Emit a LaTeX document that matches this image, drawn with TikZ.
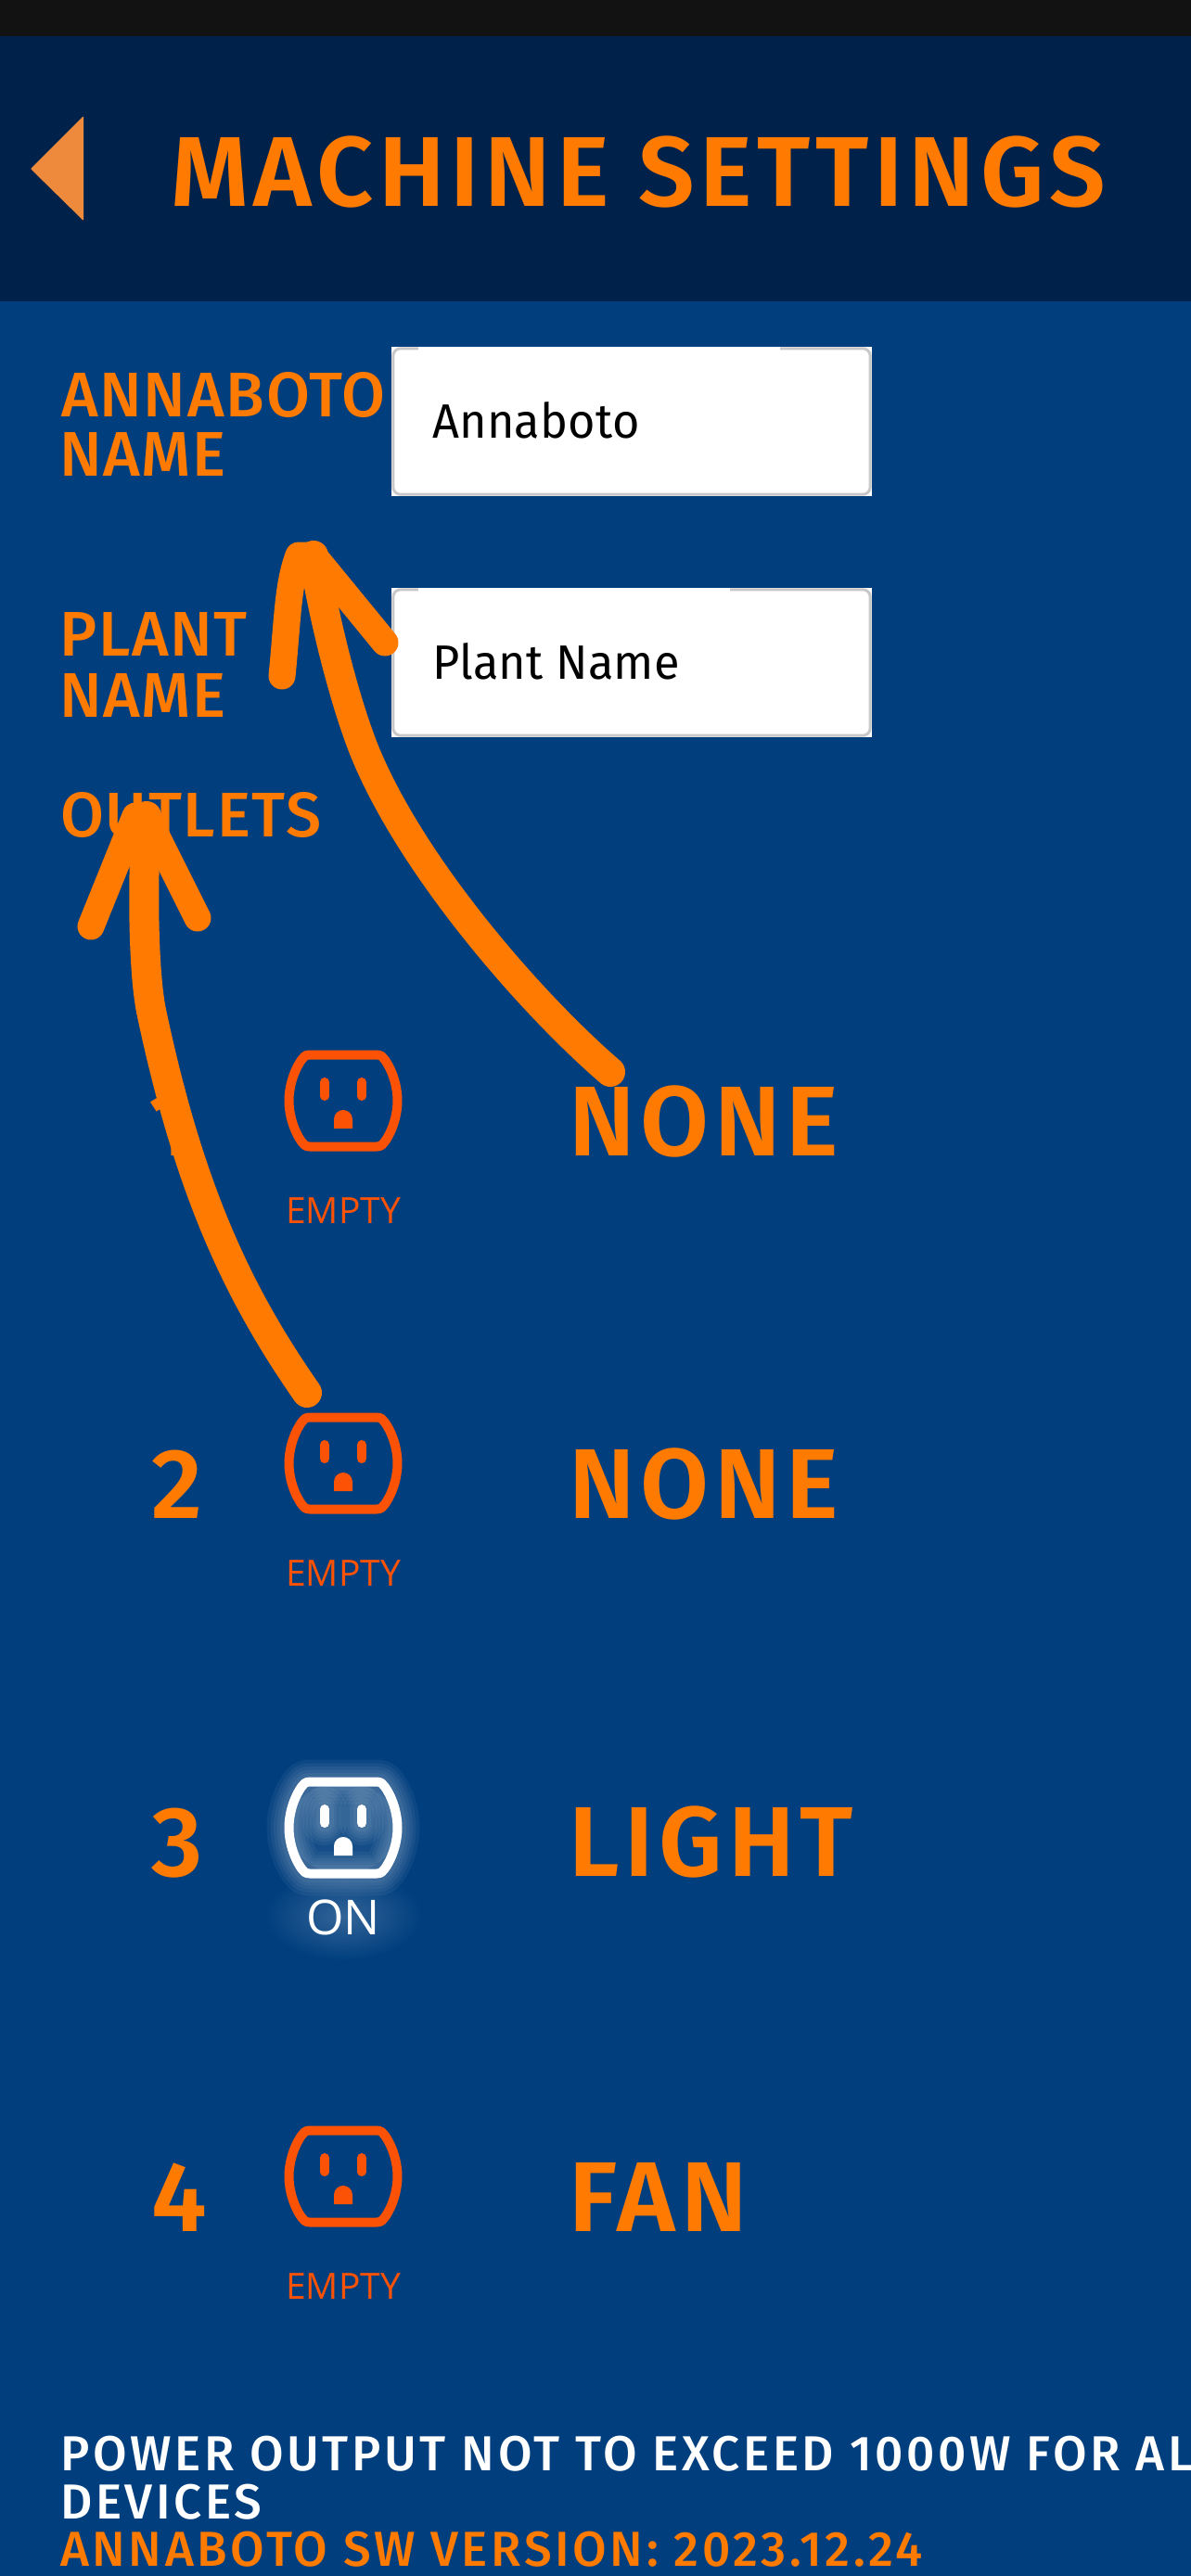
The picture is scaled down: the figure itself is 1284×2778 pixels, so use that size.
\documentclass[tikz,border=0pt]{standalone}
\usepackage{fontspec}
\usetikzlibrary{calc}
\setmainfont{Fira Sans}
\newfontfamily\uifont[LetterSpace=2.5]{Fira Sans Medium}
\newfontfamily\notefont[LetterSpace=6.8]{Fira Sans Medium}
\newfontfamily\uibold[LetterSpace=5.4]{Fira Sans SemiBold}
\newfontfamily\fieldfont[FakeStretch=0.97,LetterSpace=0.5]{Fira Sans}
\newfontfamily\tagfont{Open Sans}
\definecolor{barBlack}{HTML}{121212}
\definecolor{headBlue}{HTML}{00224A}
\definecolor{bodyBlue}{HTML}{003E7E}
\definecolor{uiOrange}{HTML}{FF7A00}
\definecolor{triOrange}{HTML}{EE8A3C}
\definecolor{outRed}{HTML}{FB5205}
\definecolor{edgeGray}{HTML}{C8C8C8}
% one socket: stroke width, x, y, colour
\newcommand{\socket}[4][10pt]{
    \begin{scope}[shift={(#2,#3)}]
        \draw[#4,line width=#1,line join=round] (-36,-49.5) -- (36,-49.5) .. controls (41,-49.5) and (43,-47) .. (45,-44)
            .. controls (54,-31) and (58.5,-14) .. (58.5,0) .. controls (58.5,14) and (54,31) .. (45,44)
            .. controls (43,47) and (41,49.5) .. (36,49.5) -- (-36,49.5) .. controls (-41,49.5) and (-43,47) .. (-45,44)
            .. controls (-54,31) and (-58.5,14) .. (-58.5,0) .. controls (-58.5,-14) and (-54,-31) .. (-45,-44)
            .. controls (-43,-47) and (-41,-49.5) .. (-36,-49.5) -- cycle;
        \draw[#4,line width=#1,line cap=round] (-20,-20) -- (-20,-5);
        \draw[#4,line width=#1,line cap=round] (20,-20) -- (20,-5);
        \fill[#4] (-10,30) -- (-10,20) .. controls (-10,14) and (-5,10) .. (0,10) .. controls (5,10) and (10,14) .. (10,20) -- (10,30) -- cycle;
    \end{scope}
}
% text field: name, centre y, end of the white top edge, text
\newcommand{\field}[4]{
    \node[fieldbox] (#1) at (681,#2) {};
    \draw[edgeGray,line width=3pt,rounded corners=8pt] ($(#1.north west)+(2,2)$) rectangle ($(#1.south east)+(-2,-2)$);
    \draw[white,line width=3.5pt] (451,#2-78.5) -- (#3,#2-78.5);
    \node[fieldtxt] (#1Txt) at (466,#2+17.5) {#4};
}
\begin{document}
\begin{tikzpicture}[x=1pt,y=-1pt]
    \tikzset{
        title/.style={anchor=base west,inner sep=0pt,text=uiOrange,font=\uibold\fontsize{107}{107}\selectfont},
        label/.style={anchor=base west,inner sep=0pt,text=uiOrange,font=\uifont\fontsize{68}{68}\selectfont},
        rowlabel/.style={anchor=base west,inner sep=0pt,text=uiOrange,font=\uibold\fontsize{107}{107}\selectfont},
        note/.style={anchor=base west,inner sep=0pt,font=\notefont\fontsize{53}{53}\selectfont},
        tag/.style={anchor=base,inner sep=0pt,text=outRed,font=\tagfont\fontsize{39}{39}\selectfont},
        fieldbox/.style={fill=white,minimum width=518pt,minimum height=161pt,inner sep=0pt},
        fieldtxt/.style={anchor=base west,inner sep=0pt,text=black,font=\fieldfont\fontsize{52}{52}\selectfont},
        stroke/.style={uiOrange,line width=32pt,line cap=round,line join=round},
        barb/.style={stroke,line width=29pt},
        glow/.style={white,opacity=0.05,line join=round}
    }
    \useasboundingbox (0,0) rectangle (1284,2778);
    \clip (0,0) rectangle (1284,2778);
    \fill[bodyBlue] (0,0) rectangle (1284,2778);
    \fill[headBlue] (0,39) rectangle (1284,325);
    \fill[barBlack] (0,0) rectangle (1284,39);
    \fill[triOrange,rounded corners=1pt] (33,182) -- (90,125) -- (90,238) -- cycle;

    \node[title] (pageTitle) at (184,222) {MACHINE SETTINGS};
    \node[label] (annaLbl) at (66,449) {ANNABOTO};
    \node[label] (annaLblB) at (64,513) {NAME};
    \node[label] (plantLbl) at (64,707) {PLANT};
    \node[label] (plantLblB) at (64,773) {NAME};
    \node[label] (outLbl) at (65,902) {OUTLETS};

    \field{annaBox}{454.5}{841}{Annaboto}
    \field{plantBox}{714.5}{787}{Plant Name}

    % rows
    \node[rowlabel] (numA) at (160,1246) {1};
    \socket{370}{1187}{outRed}
    \node[tag] (tagA) at (370,1319) {EMPTY};
    \node[rowlabel] (valA) at (613,1246) {NONE};

    \node[rowlabel] (numB) at (163,1637) {2};
    \socket{370}{1578}{outRed}
    \node[tag] (tagB) at (370,1710) {EMPTY};
    \node[rowlabel] (valB) at (613,1637) {NONE};

    % the lit one
    \shade[inner color=white!20!bodyBlue,outer color=bodyBlue] (370,2066) ellipse (85 and 48);
    \fill[white,opacity=0.08] (370,1971) ellipse (58 and 50);
    \socket[48pt]{370}{1971}{glow}
    \socket[40pt]{370}{1971}{glow}
    \socket[33pt]{370}{1971}{glow}
    \socket[26pt]{370}{1971}{glow}
    \socket[19pt]{370}{1971}{glow}
    \socket{370}{1971}{white}
    \node[tag,text=white,font=\tagfont\fontsize{52}{52}\selectfont] (tagC) at (370,2086) {ON};
    \node[rowlabel] (numC) at (163,2023) {3};
    \node[rowlabel] (valC) at (613,2023) {LIGHT};

    \node[rowlabel] (numD) at (163,2406) {4};
    \socket{370}{2347}{outRed}
    \node[tag] (tagD) at (370,2479) {EMPTY};
    \node[rowlabel] (valD) at (613,2406) {FAN};

    \node[note,text=white] (powerTxt) at (65,2664) {POWER OUTPUT NOT TO EXCEED 1000W FOR ALL};
    \node[note,text=white] (devTxt) at (65,2716) {DEVICES};
    \node[note,text=uiOrange] (swTxt) at (65,2767) {ANNABOTO SW VERSION: 2023.12.24};

    % the two hand-drawn arrows
    \coordinate (lowTail) at (331,1502);
    \coordinate (lowTip) at (158,880);
    \coordinate (lowTipB) at (146,880);
    \coordinate (lowBarbL) at (98,999);
    \coordinate (lowBarbR) at (213,990);
    \draw[stroke] (lowTail) .. controls (260,1400) and (205,1290) .. (163,1090) .. controls (155,1050) and (153,960) .. (lowTip);
    \draw[barb] (lowBarbL) -- (lowTipB) -- (lowTip) -- (lowBarbR);

    \coordinate (upTail) at (658,1156);
    \coordinate (upTip) at (338,599);
    \coordinate (upTipB) at (322,599);
    \coordinate (upBarbL) at (304,729);
    \coordinate (upBarbR) at (415,693);
    \draw[stroke] (upTail) .. controls (570,1080) and (440,930) .. (391,805) .. controls (370,750) and (350,670) .. (upTip);
    \draw[barb] (upBarbL) .. controls (310,670) and (310,630) .. (upTipB) -- (upTip) -- (upBarbR);
\end{tikzpicture}
\end{document}
